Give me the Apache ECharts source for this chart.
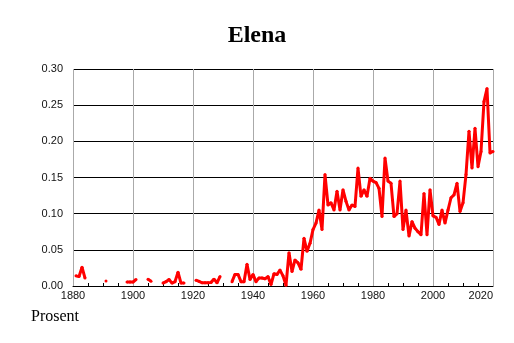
<!DOCTYPE html>
<html>
<head>
<meta charset="utf-8">
<script src="https://cdn.jsdelivr.net/npm/echarts@6/dist/echarts.min.js"></script>
<style>
    html, body { margin: 0; padding: 0; background: #fff; }
    #chart { width: 514px; height: 343px; }
</style>
</head>
<body>
<div id="chart"></div>
<script>
    // andel (prosent) per år, null = ingen verdi
    var firstYear = 1881;
    var values = [
        0.014, 0.013, 0.026, 0.011, null, null, null, null, null, null,      // 1881-1890
        0.007, null, null, null, null, null, null, 0.0055, 0.0055, 0.0055,   // 1891-1900
        0.009, null, null, null, 0.0095, 0.0065, null, null, null, 0.004,    // 1901-1910
        0.006, 0.009, 0.004, 0.006, 0.019, 0.004, 0.004, null, null, null,   // 1911-1920
        0.008, 0.0065, 0.0045, 0.0045, 0.0045, 0.005, 0.0095, 0.0045, 0.013, null, // 1921-1930
        null, null, 0.006, 0.016, 0.016, 0.006, 0.006, 0.030, 0.009, 0.016,  // 1931-1940
        0.006, 0.011, 0.011, 0.01, 0.013, 0.002, 0.017, 0.016, 0.022, 0.014, // 1941-1950
        0.001, 0.046, 0.02, 0.036, 0.032, 0.023, 0.066, 0.048, 0.059, 0.078, // 1951-1960
        0.087, 0.105, 0.078, 0.154, 0.112, 0.115, 0.105, 0.131, 0.105, 0.133, // 1961-1970
        0.117, 0.105, 0.112, 0.11, 0.163, 0.124, 0.133, 0.124, 0.149, 0.145, // 1971-1980
        0.143, 0.135, 0.096, 0.177, 0.145, 0.142, 0.096, 0.1, 0.145, 0.078,  // 1981-1990
        0.105, 0.069, 0.089, 0.08, 0.075, 0.071, 0.128, 0.071, 0.133, 0.097, // 1991-2000
        0.095, 0.085, 0.105, 0.087, 0.105, 0.122, 0.126, 0.142, 0.103, 0.115, // 2001-2010
        0.154, 0.214, 0.163, 0.218, 0.165, 0.186, 0.255, 0.273, 0.184, 0.186  // 2011-2020
    ];
    var yTicks = [0, 0.05, 0.10, 0.15, 0.20, 0.25, 0.30];
    var xTicks = [1880, 1900, 1920, 1940, 1960, 1980, 2000, 2020];

    var seriesData = values.map(function (v, i) {
        return [firstYear + i, v];
    });

    var myChart = echarts.init(document.getElementById('chart'));
    var option = {
        animation: false,
        title: {
            text: 'Elena',
            left: 'center',
            top: 19,
            textStyle: {
                fontFamily: 'Liberation Serif',
                fontWeight: 'bold',
                fontSize: 24,
                color: '#000'
            }
        },
        graphic: [{
            type: 'text',
            left: 31,
            top: 309,
            style: {
                text: 'Prosent',
                fontFamily: 'Liberation Serif',
                fontSize: 16,
                fill: '#000'
            }
        }],
        grid: {
            left: 73,
            right: 21,
            top: 69,
            bottom: 57,
            containLabel: false
        },
        xAxis: {
            type: 'value',
            min: xTicks[0],
            max: xTicks[xTicks.length - 1],
            interval: 20,
            axisLine: { show: true, lineStyle: { color: '#000', width: 1 } },
            axisTick: { show: false, inside: true },
            minorTick: { show: true, splitNumber: 4, length: 3, lineStyle: { color: '#000' } },
            axisLabel: {
                margin: 4,
                fontFamily: 'Liberation Sans',
                fontSize: 11,
                color: '#111',
                alignMaxLabel: 'right',
                formatter: function (v) { return String(v); }
            },
            splitLine: { show: true, lineStyle: { color: '#aaa', width: 1 } }
        },
        yAxis: {
            type: 'value',
            min: yTicks[0],
            max: yTicks[yTicks.length - 1],
            interval: 0.05,
            axisLine: { show: false },
            axisTick: { show: false },
            axisLabel: {
                margin: 10,
                fontFamily: 'Liberation Sans',
                fontSize: 11,
                color: '#111',
                formatter: function (v) { return v.toFixed(2); }
            },
            splitLine: { show: true, lineStyle: { color: '#000', width: 1 } }
        },
        series: [{
            type: 'line',
            data: seriesData,
            connectNulls: false,
            symbol: 'circle',
            symbolSize: 3,
            showSymbol: true,
            itemStyle: { color: '#ff0000', borderWidth: 0 },
            lineStyle: { color: '#ff0000', width: 3 },
            z: 5
        }]
    };
    myChart.setOption(option);
</script>
</body>
</html>
